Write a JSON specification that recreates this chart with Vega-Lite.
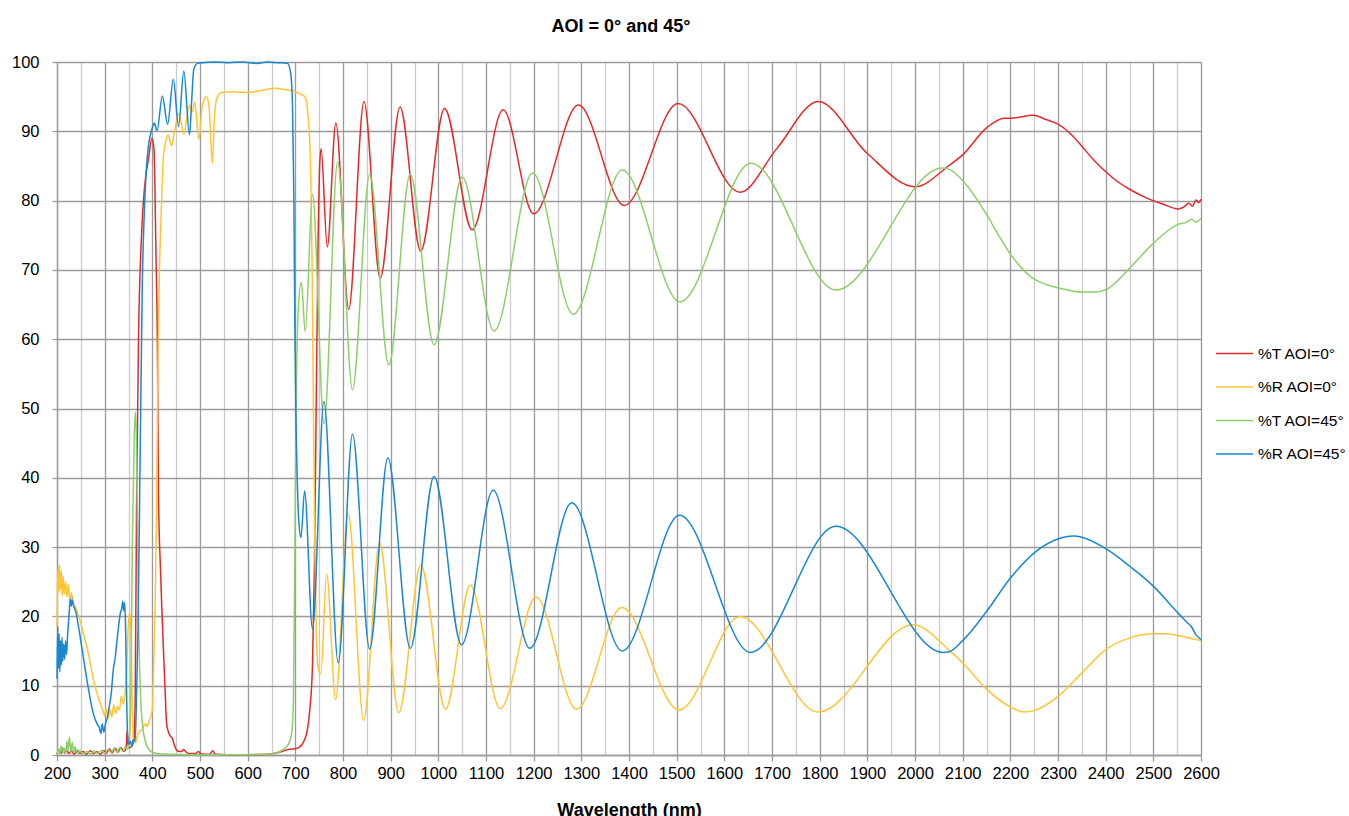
{
"$schema": "https://vega.github.io/schema/vega-lite/v6.json",
"width": 1144, "height": 693,
"autosize": {"type": "none"},
"padding": {"left": 57, "top": 62, "right": 148, "bottom": 61},
"background": "white",
"title": {"text": "AOI = 0° and 45°", "font": "Liberation Sans", "fontSize": 18, "fontWeight": "bold", "color": "#000000", "anchor": "middle", "frame": "group", "baseline": "alphabetic", "offset": 4, "dx": -8},
"config": {"view": {"stroke": null}, "font": "Liberation Sans"},
"datasets": {
"t0": [{"x":200,"y":0.1},{"x":204,"y":0.8},{"x":208,"y":0.2},{"x":212,"y":1.0},{"x":216,"y":0.3},{"x":220,"y":0.7},{"x":225,"y":0.2},{"x":230,"y":0.6},{"x":236,"y":0.1},{"x":242,"y":0.7},{"x":248,"y":0.2},{"x":255,"y":0.5},{"x":262,"y":0.1},{"x":270,"y":0.6},{"x":277,"y":0.2},{"x":284,"y":0.5},{"x":291,"y":0.1},{"x":298,"y":0.6},{"x":304,"y":0.3},{"x":310,"y":0.9},{"x":316,"y":0.3},{"x":322,"y":1.0},{"x":328,"y":0.4},{"x":334,"y":1.1},{"x":340,"y":0.5},{"x":345,"y":0.9},{"x":347,"y":3.5},{"x":350,"y":1.0},{"x":356,"y":1.2},{"x":361,"y":2.0},{"x":364,"y":8},{"x":367,"y":37},{"x":371,"y":60},{"x":378,"y":76},{"x":386,"y":83.4},{"x":392,"y":86},{"x":399,"y":89},{"x":403.5,"y":87.3},{"x":407.7,"y":72},{"x":410.5,"y":60},{"x":413,"y":37},{"x":417,"y":27},{"x":420,"y":21},{"x":424,"y":14},{"x":427,"y":9},{"x":430,"y":4.5},{"x":433,"y":3.5},{"x":437,"y":2.8},{"x":442,"y":2.4},{"x":446,"y":1.5},{"x":450,"y":0.8},{"x":456,"y":0.5},{"x":461,"y":0.5},{"x":466,"y":0.8},{"x":471,"y":0.4},{"x":478,"y":0.2},{"x":490,"y":0.2},{"x":497,"y":0.5},{"x":502,"y":0.15},{"x":520,"y":0.1},{"x":527,"y":0.6},{"x":532,"y":0.1},{"x":560,"y":0.05},{"x":600,"y":0.05},{"x":640,"y":0.1},{"x":660,"y":0.3},{"x":672,"y":0.5},{"x":685,"y":0.8},{"x":700,"y":0.9},{"x":710,"y":1.2},{"x":718,"y":2},{"x":725,"y":3.5},{"x":731,"y":7},{"x":736,"y":13},{"x":740,"y":27},{"x":744,"y":52},{"x":748,"y":75},{"x":751,"y":85},{"x":754,"y":87.5},{"x":767,"y":73.3},{"x":785,"y":91.2},{"x":812,"y":64.3},{"x":844,"y":94.3},{"x":878,"y":68.8},{"x":919.7,"y":93.5},{"x":963,"y":72.7},{"x":1013,"y":93.3},{"x":1071,"y":75.8},{"x":1136,"y":93.1},{"x":1200,"y":78.1},{"x":1294,"y":93.8},{"x":1390,"y":79.3},{"x":1503,"y":94},{"x":1633,"y":81.2},{"x":1710,"y":87.5},{"x":1797,"y":94.3},{"x":1900,"y":86.8},{"x":2000,"y":82},{"x":2072,"y":85.1},{"x":2100,"y":86.6},{"x":2150,"y":90.5},{"x":2187,"y":91.9},{"x":2201,"y":91.9},{"x":2249,"y":92.3},{"x":2275,"y":91.7},{"x":2301,"y":91.0},{"x":2324,"y":89.8},{"x":2352,"y":87.7},{"x":2373,"y":86.0},{"x":2398,"y":84.3},{"x":2422,"y":82.9},{"x":2451,"y":81.6},{"x":2485,"y":80.4},{"x":2520,"y":79.5},{"x":2552,"y":78.8},{"x":2562,"y":79.0},{"x":2575,"y":79.6},{"x":2582,"y":79.2},{"x":2590,"y":80.1},{"x":2595,"y":79.7},{"x":2600,"y":80.2}],
"r0": [{"x":200,"y":18.5},{"x":201,"y":24},{"x":202.5,"y":27},{"x":204,"y":23.5},{"x":205.5,"y":27.5},{"x":207,"y":23.8},{"x":209,"y":26.5},{"x":211,"y":23},{"x":213,"y":25.8},{"x":215,"y":23.2},{"x":218,"y":25},{"x":221,"y":22.8},{"x":224,"y":24.6},{"x":227,"y":22.2},{"x":230,"y":23.4},{"x":234,"y":21.8},{"x":238,"y":21.5},{"x":243,"y":20.5},{"x":250,"y":19},{"x":257,"y":17.1},{"x":264,"y":15.2},{"x":271,"y":12.8},{"x":278,"y":10.4},{"x":288,"y":8},{"x":296,"y":6.5},{"x":300,"y":5.6},{"x":303,"y":6.8},{"x":307,"y":5.2},{"x":311,"y":6.6},{"x":315,"y":5.5},{"x":319,"y":7.2},{"x":323,"y":6.0},{"x":327,"y":7.0},{"x":331,"y":6.5},{"x":335,"y":8.5},{"x":339,"y":7.3},{"x":343,"y":9},{"x":346,"y":12},{"x":349,"y":18},{"x":352.4,"y":20.5},{"x":355,"y":18.6},{"x":357,"y":10},{"x":360,"y":2.2},{"x":365,"y":1.8},{"x":368,"y":2.6},{"x":372,"y":3.4},{"x":378,"y":3.6},{"x":382,"y":4.2},{"x":386,"y":4.5},{"x":389,"y":4.1},{"x":393,"y":4.8},{"x":396,"y":5.5},{"x":400,"y":6.5},{"x":403,"y":13.7},{"x":406,"y":22},{"x":409,"y":36},{"x":412,"y":58},{"x":415,"y":70},{"x":419,"y":79},{"x":423,"y":86},{"x":428,"y":88.5},{"x":433,"y":89.5},{"x":440.5,"y":87.9},{"x":446,"y":89.8},{"x":456,"y":92.6},{"x":466,"y":89.6},{"x":478,"y":93.8},{"x":484,"y":92.8},{"x":489,"y":94.2},{"x":497.5,"y":88.8},{"x":505,"y":93.8},{"x":514,"y":95},{"x":519,"y":93.5},{"x":526,"y":85.4},{"x":530,"y":91.5},{"x":535,"y":94.7},{"x":545,"y":95.6},{"x":570,"y":95.7},{"x":600,"y":95.6},{"x":630,"y":95.9},{"x":657,"y":96.2},{"x":680,"y":96.0},{"x":700,"y":95.7},{"x":712,"y":95.3},{"x":720,"y":95.0},{"x":724,"y":94},{"x":728,"y":91},{"x":732,"y":85},{"x":735,"y":72},{"x":738,"y":50},{"x":741,"y":30},{"x":744,"y":18},{"x":748,"y":12.5},{"x":753.4,"y":11.7},{"x":765.8,"y":26.1},{"x":784.5,"y":8.0},{"x":810.9,"y":34.9},{"x":843.5,"y":5.0},{"x":876.7,"y":30.6},{"x":917,"y":6.1},{"x":963.3,"y":27.4},{"x":1015,"y":6.6},{"x":1067,"y":24.5},{"x":1130,"y":6.7},{"x":1205,"y":22.8},{"x":1290,"y":6.6},{"x":1385,"y":21.3},{"x":1505,"y":6.5},{"x":1633,"y":20},{"x":1797,"y":6.2},{"x":1996,"y":18.8},{"x":2072,"y":15.1},{"x":2100,"y":13.3},{"x":2150,"y":9.5},{"x":2201,"y":6.9},{"x":2229,"y":6.2},{"x":2249,"y":6.4},{"x":2301,"y":8.5},{"x":2352,"y":12},{"x":2402,"y":15.3},{"x":2451,"y":16.9},{"x":2501,"y":17.5},{"x":2527,"y":17.5},{"x":2553,"y":17.2},{"x":2600,"y":16.5}],
"t45": [{"x":200,"y":0},{"x":203,"y":0.9},{"x":206,"y":0.2},{"x":209,"y":1.3},{"x":212,"y":0.3},{"x":215,"y":1.0},{"x":218,"y":0.2},{"x":221,"y":2.0},{"x":223,"y":0.6},{"x":226,"y":2.6},{"x":229,"y":0.5},{"x":232,"y":1.8},{"x":235,"y":0.3},{"x":238,"y":1.2},{"x":242,"y":0.2},{"x":248,"y":0.6},{"x":255,"y":0.1},{"x":262,"y":0.5},{"x":270,"y":0.1},{"x":278,"y":0.6},{"x":286,"y":0.2},{"x":294,"y":0.7},{"x":300,"y":0.2},{"x":307,"y":0.8},{"x":314,"y":0.3},{"x":320,"y":1.0},{"x":326,"y":0.4},{"x":332,"y":1.1},{"x":338,"y":0.5},{"x":343,"y":1.2},{"x":348,"y":0.8},{"x":352,"y":2},{"x":355,"y":10},{"x":358,"y":30},{"x":362,"y":46},{"x":365,"y":49.5},{"x":368,"y":38},{"x":371,"y":20},{"x":375,"y":9},{"x":380,"y":4},{"x":386,"y":1.8},{"x":393,"y":0.8},{"x":400,"y":0.4},{"x":420,"y":0.15},{"x":500,"y":0.05},{"x":600,"y":0.05},{"x":640,"y":0.1},{"x":660,"y":0.3},{"x":675,"y":0.8},{"x":685,"y":1.5},{"x":692,"y":3},{"x":696,"y":8},{"x":699,"y":30},{"x":702,"y":52},{"x":706,"y":64},{"x":712.5,"y":68.2},{"x":720.8,"y":61.1},{"x":736,"y":80.9},{"x":760.3,"y":47.8},{"x":788.7,"y":85.6},{"x":819.9,"y":52.7},{"x":855.9,"y":83.8},{"x":896,"y":56.3},{"x":941,"y":83.8},{"x":991,"y":59.2},{"x":1050,"y":83.4},{"x":1117,"y":61.2},{"x":1198,"y":84},{"x":1283,"y":63.6},{"x":1386,"y":84.4},{"x":1507,"y":65.4},{"x":1656,"y":85.4},{"x":1834,"y":67.1},{"x":2057,"y":84.7},{"x":2072,"y":84.5},{"x":2100,"y":82.9},{"x":2150,"y":78},{"x":2177,"y":74.8},{"x":2201,"y":72.2},{"x":2249,"y":68.7},{"x":2275,"y":67.9},{"x":2301,"y":67.4},{"x":2352,"y":66.8},{"x":2380,"y":66.8},{"x":2402,"y":67.2},{"x":2451,"y":70.3},{"x":2501,"y":73.9},{"x":2553,"y":76.6},{"x":2570,"y":76.9},{"x":2580,"y":77.3},{"x":2590,"y":76.9},{"x":2600,"y":77.4}],
"r45": [{"x":200,"y":11},{"x":201.5,"y":18.5},{"x":203,"y":12.5},{"x":204.5,"y":17.5},{"x":206,"y":12},{"x":207.5,"y":16.5},{"x":209,"y":13},{"x":210.5,"y":17},{"x":212,"y":13.5},{"x":214,"y":16},{"x":216,"y":13.8},{"x":218,"y":16.5},{"x":220,"y":14.5},{"x":222,"y":17},{"x":224,"y":19},{"x":226,"y":21},{"x":228,"y":22.5},{"x":230,"y":21.5},{"x":232,"y":22.4},{"x":235,"y":21.5},{"x":240,"y":20.5},{"x":245,"y":18.6},{"x":255,"y":14.2},{"x":265,"y":9.9},{"x":276,"y":6},{"x":284,"y":4.5},{"x":289,"y":3.9},{"x":292,"y":3.1},{"x":295,"y":4.5},{"x":298,"y":3.3},{"x":302,"y":4.6},{"x":306,"y":5.5},{"x":310,"y":7.2},{"x":314,"y":9},{"x":318,"y":12.3},{"x":322,"y":14},{"x":326,"y":16.6},{"x":330,"y":19},{"x":333,"y":20.5},{"x":336,"y":21.2},{"x":338,"y":22.2},{"x":340,"y":20.8},{"x":342,"y":22},{"x":344,"y":18},{"x":346,"y":9},{"x":348,"y":3},{"x":351,"y":1.6},{"x":354,"y":2.0},{"x":357,"y":1.2},{"x":360,"y":2.2},{"x":364,"y":2.0},{"x":367,"y":8.9},{"x":370,"y":18.6},{"x":373,"y":35},{"x":376,"y":52},{"x":379,"y":68},{"x":383,"y":78},{"x":387,"y":84},{"x":391,"y":87.5},{"x":396,"y":89.5},{"x":400,"y":90.5},{"x":404,"y":91.2},{"x":410,"y":90.1},{"x":421,"y":95.1},{"x":432,"y":91},{"x":444,"y":97.5},{"x":455,"y":90.7},{"x":466,"y":98.7},{"x":478,"y":89.5},{"x":483,"y":95},{"x":487,"y":99},{"x":495,"y":99.8},{"x":505,"y":99.9},{"x":530,"y":100},{"x":560,"y":99.9},{"x":590,"y":100},{"x":620,"y":99.8},{"x":640,"y":100},{"x":665,"y":99.9},{"x":684,"y":99.8},{"x":690,"y":98.5},{"x":694,"y":94},{"x":697,"y":80},{"x":699,"y":62},{"x":701,"y":50},{"x":704,"y":40},{"x":707,"y":34},{"x":711.8,"y":31.4},{"x":719.4,"y":38.1},{"x":736,"y":18.2},{"x":760,"y":51},{"x":790,"y":13.3},{"x":819.9,"y":46.3},{"x":855.9,"y":15.3},{"x":894,"y":42.9},{"x":941.2,"y":15.4},{"x":991,"y":40.2},{"x":1048.6,"y":15.9},{"x":1115,"y":38.2},{"x":1192,"y":15.4},{"x":1280,"y":36.4},{"x":1386,"y":15},{"x":1506,"y":34.6},{"x":1655,"y":14.8},{"x":1834,"y":33},{"x":2059,"y":14.8},{"x":2072,"y":14.9},{"x":2100,"y":16.5},{"x":2150,"y":20.7},{"x":2201,"y":25.6},{"x":2249,"y":29.1},{"x":2301,"y":31.2},{"x":2331,"y":31.6},{"x":2352,"y":31.4},{"x":2402,"y":29.7},{"x":2451,"y":27.2},{"x":2501,"y":24.3},{"x":2553,"y":20.4},{"x":2570,"y":19.2},{"x":2580,"y":18.5},{"x":2590,"y":17.3},{"x":2600,"y":16.7}]
},
"encoding": {
  "x": {"field": "x", "type": "quantitative",
    "scale": {"domain": [200, 2600], "nice": false, "zero": false},
    "axis": {"values": [200,250,300,350,400,450,500,550,600,650,700,750,800,850,900,950,1000,1050,1100,1150,1200,1250,1300,1350,1400,1450,1500,1550,1600,1650,1700,1750,1800,1850,1900,1950,2000,2050,2100,2150,2200,2250,2300,2350,2400,2450,2500,2550,2600],
      "format": "d",
      "labelExpr": "datum.value % 100 === 0 ? datum.label : ''",
      "gridColor": {"condition": {"test": "datum.value % 100 === 0", "value": "#9a9a9a"}, "value": "#cbcbcb"},
      "gridWidth": 1.3,
      "tickColor": {"condition": {"test": "datum.value % 100 === 0", "value": "#9a9a9a"}, "value": "transparent"},
      "tickSize": 6, "tickWidth": 1.3,
      "domainColor": "#9a9a9a", "domainWidth": 1.3,
      "labelFontSize": 16.5, "labelColor": "#000000", "labelPadding": 4,
      "labelFlush": false, "labelOverlap": false,
      "title": "Wavelength (nm)", "titleFontSize": 18, "titleFontWeight": "bold", "titleColor": "#000000",
      "titleBaseline": "alphabetic", "titleY": 60}},
  "y": {"field": "y", "type": "quantitative",
    "scale": {"domain": [0, 100], "nice": false},
    "axis": {"values": [0,10,20,30,40,50,60,70,80,90,100],
      "gridColor": "#9a9a9a", "gridWidth": 1.3,
      "tickColor": "#9a9a9a", "tickSize": 5, "tickWidth": 1.3,
      "domainColor": "#9a9a9a", "domainWidth": 1.3,
      "labelFontSize": 16.5, "labelColor": "#000000", "labelPadding": 13,
      "labelFlush": false, "title": null}}
},
"layer": [
  {"data": {"name": "t0"}, "mark": {"type": "line", "interpolate": "monotone", "strokeWidth": 1.5},
   "encoding": {"color": {"datum": "%T AOI=0°", "type": "nominal",
     "scale": {"domain": ["%T AOI=0°", "%R AOI=0°", "%T AOI=45°", "%R AOI=45°"], "range": ["#E12A2A", "#FFC435", "#8DCF6A", "#1A87CF"]},
     "legend": {"orient": "none", "legendX": 1158, "legendY": 272, "title": null, "padding": 0,
       "symbolType": "stroke", "symbolSize": 1369, "symbolStrokeWidth": 1.5,
       "labelFontSize": 15.5, "labelColor": "#000000", "labelOffset": 4, "rowPadding": 5.5}}}},
  {"data": {"name": "r0"}, "mark": {"type": "line", "interpolate": "monotone", "strokeWidth": 1.5},
   "encoding": {"color": {"datum": "%R AOI=0°", "type": "nominal"}}},
  {"data": {"name": "t45"}, "mark": {"type": "line", "interpolate": "monotone", "strokeWidth": 1.5},
   "encoding": {"color": {"datum": "%T AOI=45°", "type": "nominal"}}},
  {"data": {"name": "r45"}, "mark": {"type": "line", "interpolate": "monotone", "strokeWidth": 1.5},
   "encoding": {"color": {"datum": "%R AOI=45°", "type": "nominal"}}}
]
}
